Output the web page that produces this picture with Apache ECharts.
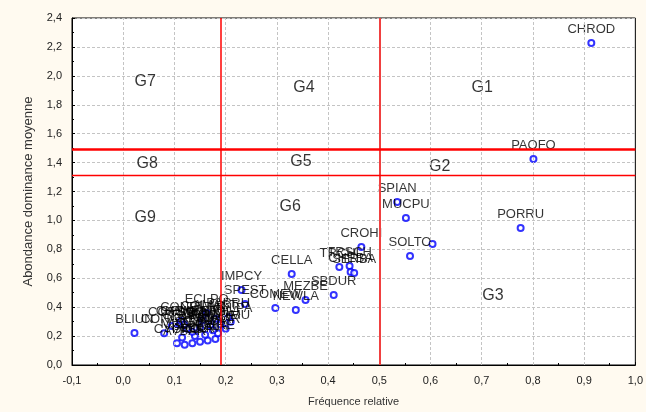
<!DOCTYPE html>
<html>
<head>
<meta charset="utf-8">
<script src="https://cdn.jsdelivr.net/npm/echarts@6/dist/echarts.min.js"></script>
<style>
  html, body { margin: 0; padding: 0; background: #fffaf0; }
  #chart { width: 646px; height: 412px; }
</style>
</head>
<body>
<div id="chart"></div>
<script>
// species codes, relative frequency (x), mean abundance-dominance (y)
const speciesNames = [
  'CHROD', 'PAOFO', 'PORRU', 'SPIAN', 'MUCPU', 'SOLTO', '', 'CROHI',
  'TRCHI', 'TRSCH', 'CHEBA', 'SERBA', 'CELLA', 'SBDUR', 'MEZBE', 'COMEW', 'NEWLA',
  'IMPCY', 'SPEST', 'ECLPO', 'BLIUN',
  'CYPRO', 'AVBAR', 'DIGSA', 'LOLRI', 'PLALA', 'TRIRE', 'MEDMI', 'SCOHI', 'CYNDA',
  'ANAAR', 'HORMU', 'CONAR', 'BROMA', 'SENVU', 'SONOL', 'ERICA', 'MALPA', 'CHEMU',
  'CONDI', 'COLAB', 'AMAST', 'PAPRH', 'COMEA', 'CORSQ', 'FUMOF', 'CAPBU'
];
const relFreq = [
  0.914, 0.801, 0.776, 0.535, 0.552, 0.560, 0.604, 0.465,
  0.422, 0.442, 0.444, 0.451, 0.329, 0.411, 0.356, 0.297, 0.337,
  0.231, 0.238, 0.163, 0.022,
  0.105, 0.120, 0.135, 0.150, 0.165, 0.180, 0.115, 0.140, 0.160,
  0.185, 0.200, 0.080, 0.125, 0.150, 0.170, 0.190, 0.210, 0.110,
  0.113, 0.155, 0.180, 0.205, 0.119, 0.095, 0.175, 0.135
];
const meanAbund = [
  2.227, 1.425, 0.947, 1.127, 1.017, 0.754, 0.837, 0.816,
  0.678, 0.685, 0.643, 0.636, 0.629, 0.484, 0.450, 0.394, 0.380,
  0.519, 0.422, 0.360, 0.221,
  0.150, 0.140, 0.150, 0.160, 0.170, 0.180, 0.190, 0.200, 0.210,
  0.220, 0.250, 0.220, 0.250, 0.260, 0.270, 0.280, 0.300, 0.280,
  0.304, 0.310, 0.320, 0.330, 0.280, 0.270, 0.240, 0.230
];

// group labels placed on the plane
const groupNames = ['G1', 'G2', 'G3', 'G4', 'G5', 'G6', 'G7', 'G8', 'G9'];
const groupX = [0.701, 0.618, 0.722, 0.353, 0.347, 0.326, 0.043, 0.047, 0.043];
const groupY = [1.916, 1.369, 0.477, 1.916, 1.404, 1.093, 1.957, 1.390, 1.017];

// separating lines
const vLines = [0.193, 0.5];
const hLines = [1.49, 1.31];

// vertical grid lines at the inner x ticks
const xGridTicks = [0, 0.1, 0.2, 0.3, 0.4, 0.5, 0.6, 0.7, 0.8, 0.9];

const FONT = '"Liberation Sans", Arial, sans-serif';
const comma = (v) => v.toFixed(1).replace('.', ',');
const gridStyle = { color: '#c4c4c4', type: [3, 2], width: 1 };

const chart = echarts.init(document.getElementById('chart'), null, { renderer: 'canvas' });

chart.setOption({
  backgroundColor: '#fffaf0',
  animation: false,
  grid: {
    left: 72, right: 5, top: 18, bottom: 47,
    show: true, backgroundColor: '#ffffff', borderColor: '#000', borderWidth: 1
  },
  xAxis: {
    type: 'value', min: -0.1, max: 1.0, interval: 0.1,
    name: 'Fréquence relative', nameLocation: 'middle', nameGap: 31,
    nameTextStyle: { fontFamily: FONT, fontSize: 11, color: '#333' },
    axisLine: { show: true, onZero: false, lineStyle: { color: '#000' } },
    axisTick: { show: true, inside: true, length: 3, lineStyle: { color: '#000' } },
    minorTick: { show: true, splitNumber: 2, length: 2, lineStyle: { color: '#000' } },
    axisLabel: { formatter: comma, fontFamily: FONT, fontSize: 11, color: '#222', margin: 10 },
    splitLine: { show: false }
  },
  yAxis: {
    type: 'value', min: 0, max: 2.4, interval: 0.2,
    name: 'Abondance dominance moyenne', nameLocation: 'middle', nameGap: 37, nameRotate: 90,
    nameTextStyle: { fontFamily: FONT, fontSize: 13, color: '#333' },
    axisLine: { show: true, onZero: false, lineStyle: { color: '#000' } },
    axisTick: { show: true, inside: true, length: 3, lineStyle: { color: '#000' } },
    minorTick: { show: true, splitNumber: 2, length: 2, lineStyle: { color: '#000' } },
    axisLabel: { formatter: comma, fontFamily: FONT, fontSize: 11, color: '#222', margin: 10 },
    splitLine: { show: true, lineStyle: gridStyle }
  },
  series: [{
    type: 'scatter',
    z: 1,
    symbolSize: 0,
    silent: true,
    label: {
      show: true, position: 'inside', formatter: '{b}',
      fontFamily: FONT, fontSize: 16, color: '#000'
    },
    data: groupX.map((x, i) => ({ value: [x, groupY[i]], name: groupNames[i] })),
    markLine: {
      silent: true, symbol: 'none', label: { show: false },
      lineStyle: gridStyle,
      data: xGridTicks.map((v) => ({ xAxis: v }))
    }
  }, {
    type: 'scatter',
    z: 3,
    symbol: 'emptyCircle',
    symbolSize: 6,
    itemStyle: { color: '#0000ff', borderColor: '#0000ff', borderWidth: 1.3 },
    label: {
      show: true, position: 'top', distance: 3, formatter: '{b}',
      fontFamily: FONT, fontSize: 13, color: '#000'
    },
    data: relFreq.map((x, i) => ({ value: [x, meanAbund[i]], name: speciesNames[i] })),
    markLine: {
      silent: true, symbol: 'none', label: { show: false },
      data: [
        { xAxis: vLines[0], lineStyle: { color: '#ff0000', width: 1.5, type: 'solid' } },
        { xAxis: vLines[1], lineStyle: { color: '#f04040', width: 2, type: 'solid' } },
        { yAxis: hLines[0], lineStyle: { color: '#ff0000', width: 2.5, type: 'solid' } },
        { yAxis: hLines[1], lineStyle: { color: '#ff0000', width: 1.3, type: 'solid' } }
      ]
    }
  }]
});
</script>
</body>
</html>
